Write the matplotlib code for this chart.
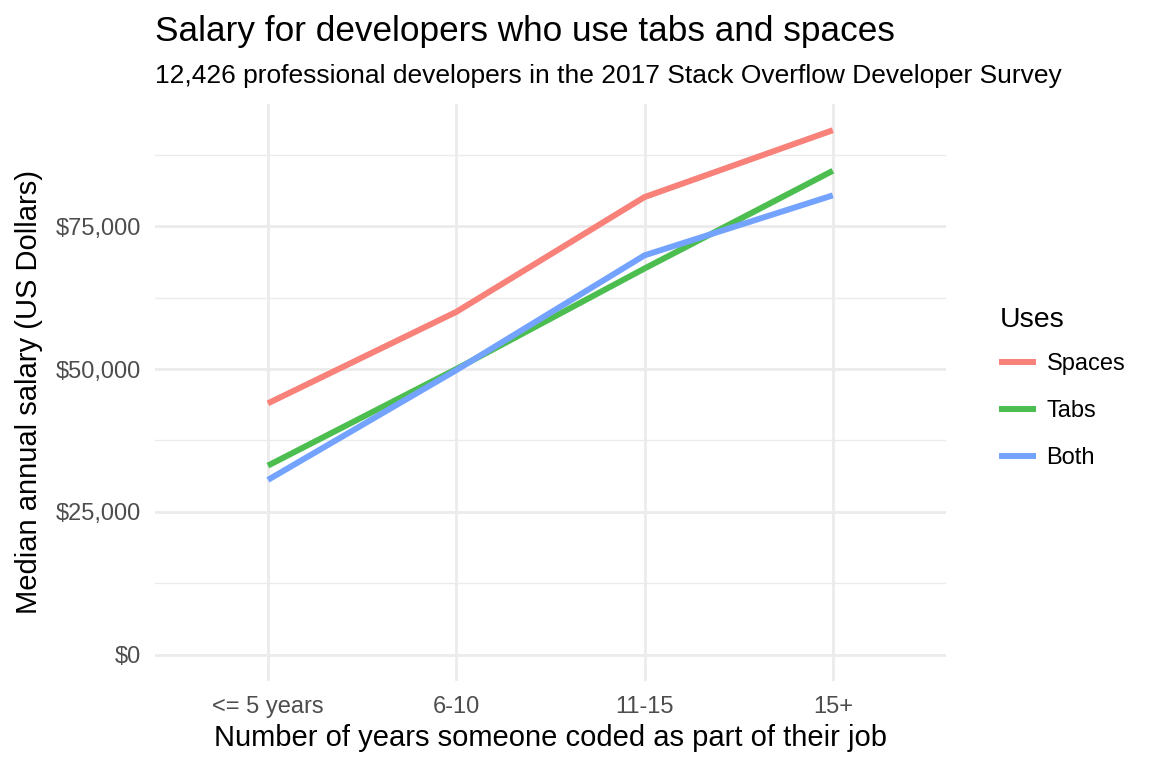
import matplotlib
matplotlib.use("Agg")
import matplotlib.pyplot as plt
from matplotlib.ticker import FuncFormatter, MultipleLocator
from matplotlib.lines import Line2D

plt.rcParams['font.family'] = ['Liberation Sans', 'DejaVu Sans']

categories = ["<= 5 years", "6-10", "11-15", "15+"]
series_names = ["Spaces", "Tabs", "Both"]
spaces = [44000, 60000, 80100, 91800]
tabs = [33100, 50000, 67600, 84700]
both = [30600, 49800, 69900, 80400]
colors = ["#F8817A", "#4CBE50", "#74A3FF"]
y_ticks = [0, 25000, 50000, 75000]

fig = plt.figure(figsize=(11.52, 7.68), dpi=100)
ax = fig.add_axes([0.1345, 0.1133, 0.821 - 0.1345, 0.8646 - 0.1133])

x = list(range(len(categories)))
for vals, c, name in zip([spaces, tabs, both], colors, series_names):
    ax.plot(x, vals, color=c, lw=4.3, solid_capstyle='butt',
            solid_joinstyle='miter', label=name, zorder=3)

allv = spaces + tabs + both + [0]
lo, hi = min(allv), max(allv)
pad = (hi - lo) * 0.05
ax.set_ylim(lo - pad, hi + pad)
ax.set_xlim(-0.6, len(categories) - 1 + 0.6)

ax.set_xticks(x)
ax.set_xticklabels(categories)
ax.set_yticks(y_ticks)
ax.yaxis.set_minor_locator(MultipleLocator(12500))
ax.yaxis.set_major_formatter(FuncFormatter(lambda v, p: "${:,.0f}".format(v)))

ax.grid(which='major', color='#EBEBEB', lw=2.0, zorder=0)
ax.grid(which='minor', axis='y', color='#EBEBEB', lw=1.0, zorder=0)
ax.set_axisbelow(True)
for s in ax.spines.values():
    s.set_visible(False)
ax.tick_params(which='both', length=0, labelsize=17, colors='#4D4D4D')
ax.tick_params(axis='y', pad=10)
ax.tick_params(axis='x', pad=11)

ax.set_xlabel("Number of years someone coded as part of their job", fontsize=21, color='black', labelpad=4)
ax.set_ylabel("Median annual salary (US Dollars)", fontsize=21, color='black', labelpad=9)

fig.text(155/1152, 1 - 31/768, "Salary for developers who use tabs and spaces",
         fontsize=25.3, ha='left', va='center')
fig.text(155/1152, 1 - 76/768, "12,426 professional developers in the 2017 Stack Overflow Developer Survey",
         fontsize=19, ha='left', va='center')

handles = [Line2D([0], [0], color=c, lw=4.3, solid_capstyle='butt') for c in colors]
leg = fig.legend(handles, series_names, title="Uses", loc='upper left',
                 bbox_to_anchor=(978/1152, 1 - 286/768), frameon=False,
                 fontsize=17, title_fontsize=20.5, handlelength=1.55,
                 labelspacing=1.05, handletextpad=0.45, alignment='left')
leg._legend_box.sep = 14.5

fig.savefig("out.png", dpi=100, facecolor='white')
